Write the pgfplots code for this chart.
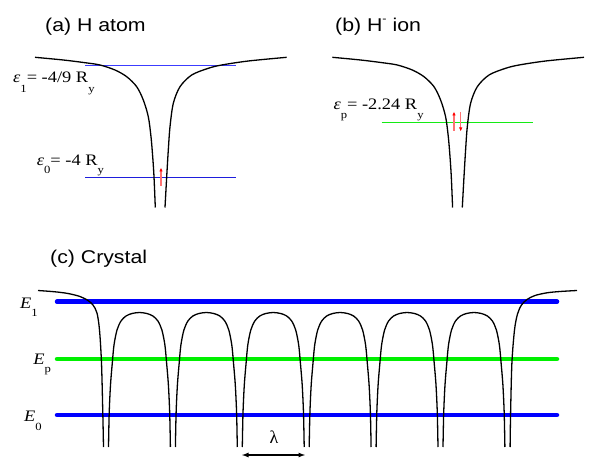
\documentclass[border=0pt]{standalone}
\usepackage{pgfplots}
\pgfplotsset{compat=1.18}
\usepackage{fontspec}
\setmainfont{Liberation Serif}
\newfontfamily\arial{Liberation Sans}
\usetikzlibrary{arrows.meta}

\definecolor{levelA}{RGB}{60,60,255}
\definecolor{levelB}{RGB}{30,30,220}
\definecolor{levelP}{RGB}{20,235,20}
\definecolor{bandb}{RGB}{0,0,255}
\definecolor{bandg}{RGB}{0,240,0}

% subscript set well below the baseline, as in the figure
\newcommand\sub[2][10.5]{\raisebox{-#1pt}{\fontsize{11}{11}\selectfont #2}}
\newcommand\lab[1]{\scalebox{1.15}[1]{\fontsize{16}{16}\selectfont #1}}
\newcommand\ttl[1]{\scalebox{1.15}[1]{\arial\fontsize{18.5}{20}\selectfont #1}}

\begin{document}
\begin{tikzpicture}
\begin{axis}[
    width=590pt, height=457pt, scale only axis,
    xmin=0, xmax=590, ymin=0, ymax=457,
    y dir=reverse,
    hide axis, clip=false,
    pot/.style={black, line width=1.3pt, smooth},
    band/.style={line width=4.5pt, line cap=round},
    spin/.style={red!55, line width=1.2pt, -{Latex[length=4pt,width=3.5pt,color=red]}},
]
\addplot[draw=none] coordinates {(0,0) (590,457)};

% ---------- (a) H atom ----------
\addplot[draw=levelA, line width=1.3pt] coordinates {(85,65.5) (236,65.5)};
\addplot[draw=levelB, line width=1.3pt] coordinates {(85,177.3) (236,177.3)};
\addplot[pot] coordinates {
    (35,57.3) (63.3,60) (85,62.7) (100,65) (115,70) (126.7,76.7) (136.7,86.7)
    (143.3,100) (148.3,116.7) (151,136.7) (152.7,156.7) (154,176.7) (155.3,207.5)
};
\addplot[pot] coordinates {
    (165,207.5) (166.7,176.7) (168.3,150) (170,126.7) (173.3,103.3) (180,86.7)
    (191.7,75) (208.3,68.3) (221.7,65) (248.3,61) (286.7,57.3)
};
\addplot[spin] coordinates {(161,185.5) (161,167.5)};

% ---------- (b) H- ion ----------
\addplot[draw=levelP, line width=1.2pt] coordinates {(381.7,122.3) (533.3,122.3)};
\addplot[pot] coordinates {
    (332.3,57.3) (360.6,60) (382.3,62.7) (397.3,65) (412.3,70) (424,76.7) (434,86.7)
    (440.6,100) (445.6,116.7) (448.3,136.7) (450,156.7) (451.3,176.7) (452.6,207.5)
};
\addplot[pot] coordinates {
    (462.3,207.5) (464,176.7) (465.6,150) (467.3,126.7) (470.6,103.3) (477.3,86.7)
    (489,75) (505.6,68.3) (519,65) (545.6,61) (584,57.3)
};
\addplot[spin] coordinates {(454,131) (454,111.5)};
\addplot[spin] coordinates {(460.7,112) (460.7,131.5)};

% ---------- (c) Crystal ----------
\addplot[bandb, band] coordinates {(57,301.7) (557,301.7)};
\addplot[bandg, band] coordinates {(57,359) (557,359)};
\addplot[bandb, band] coordinates {(57,415) (557,415)};

\addplot[pot] coordinates {
    (38,290.5) (55,291.8) (68,293.5) (80,296.5) (88,300.5) (93,305) (97,313)
    (99.5,330) (101.5,363) (102.8,413) (103.5,447)
};
\addplot[pot] coordinates {
    (108.5,447) (109.2,413) (110.5,385) (112.3,363) (114,345) (117,330) (121,321)
    (126,316) (132,313.5) (139.45,312.5) (146.9,313.5) (152.9,316) (157.9,321)
    (161.9,330) (164.9,345) (166.6,363) (168.4,385) (169.7,413) (170.4,447)
};
\addplot[pot] coordinates {
    (175.4,447) (176.1,413) (177.4,385) (179.2,363) (180.9,345) (183.9,330) (187.9,321)
    (192.9,316) (198.9,313.5) (206.35,312.5) (213.8,313.5) (219.8,316) (224.8,321)
    (228.8,330) (231.8,345) (233.5,363) (235.3,385) (236.6,413) (237.3,447)
};
\addplot[pot] coordinates {
    (242.3,447) (243.0,413) (244.3,385) (246.1,363) (247.8,345) (250.8,330) (254.8,321)
    (259.8,316) (265.8,313.5) (273.25,312.5) (280.7,313.5) (286.7,316) (291.7,321)
    (295.7,330) (298.7,345) (300.4,363) (302.2,385) (303.5,413) (304.2,447)
};
\addplot[pot] coordinates {
    (309.2,447) (309.9,413) (311.2,385) (313.0,363) (314.7,345) (317.7,330) (321.7,321)
    (326.7,316) (332.7,313.5) (340.15,312.5) (347.6,313.5) (353.6,316) (358.6,321)
    (362.6,330) (365.6,345) (367.3,363) (369.1,385) (370.4,413) (371.1,447)
};
\addplot[pot] coordinates {
    (376.1,447) (376.8,413) (378.1,385) (379.9,363) (381.6,345) (384.6,330) (388.6,321)
    (393.6,316) (399.6,313.5) (407.05,312.5) (414.5,313.5) (420.5,316) (425.5,321)
    (429.5,330) (432.5,345) (434.2,363) (436.0,385) (437.3,413) (438.0,447)
};
\addplot[pot] coordinates {
    (443.0,447) (443.7,413) (445.0,385) (446.8,363) (448.5,345) (451.5,330) (455.5,321)
    (460.5,316) (466.5,313.5) (473.95,312.5) (481.4,313.5) (487.4,316) (492.4,321)
    (496.4,330) (499.4,345) (501.1,363) (502.9,385) (504.2,413) (504.9,447)
};
\addplot[pot] coordinates {
    (510.1,447) (510.6,413) (511.9,363) (514.5,330) (517.5,314) (521.5,305)
    (527,299.5) (535,295.5) (547,292.8) (560,291.5) (577,290.5)
};

% lattice spacing
\addplot[black, line width=1.3pt,
    {Latex[length=7pt,width=5pt]}-{Latex[length=7pt,width=5pt]}]
    coordinates {(241.5,455) (305.5,455)};

% ---------- text ----------
\node[anchor=base west, inner sep=0] at (axis cs:45,31.5) {\ttl{(a) H atom}};
\node[anchor=base west, inner sep=0] at (axis cs:335,31.5)
    {\ttl{(b) H\raisebox{8.5pt}{\fontsize{11}{11}\selectfont -} ion}};
\node[anchor=base west, inner sep=0] at (axis cs:50,263.3) {\ttl{(c) Crystal}};

\node[anchor=base west, inner sep=0] at (axis cs:13,82.3)
    {\lab{\textit{ε}\sub{1}= -4/9 R\sub{y}}};
\node[anchor=base west, inner sep=0] at (axis cs:36.7,165)
    {\lab{\textit{ε}\sub[9]{0}= -4 R\sub[9]{y}}};
\node[anchor=base west, inner sep=0] at (axis cs:333.3,110)
    {\lab{\textit{ε}\sub[9]{p}= -2.24 R\sub[9]{y}}};

\node[anchor=base west, inner sep=0] at (axis cs:20,308.3)
    {\lab{\textit{E}\sub[8.5]{1}}};
\node[anchor=base west, inner sep=0] at (axis cs:33.3,364)
    {\lab{\textit{E}\sub[8.5]{p}}};
\node[anchor=base west, inner sep=0] at (axis cs:24,421.7)
    {\lab{\textit{E}\sub[8.5]{0}}};

\node[anchor=base, inner sep=0] at (axis cs:274,443.5) {\fontsize{18}{18}\selectfont λ};
\end{axis}
\end{tikzpicture}
\end{document}
